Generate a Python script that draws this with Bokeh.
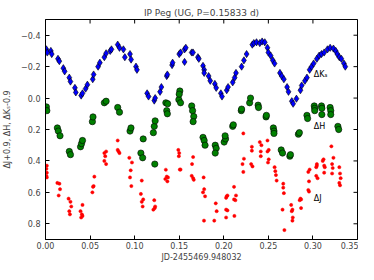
import math
from bokeh.plotting import figure
from bokeh.models import Range1d, FixedTicker, PrintfTickFormatter, CustomJSTickFormatter, Label
from bokeh.embed import file_html
from bokeh.resources import INLINE

# Ks - 0.9 (blue diamonds)
k_t = [.001,.002,.006,.007,.014,.0155,.020,.0215,.0267,.028,.033,.034,.040,.0415,.045,.047,.053,.054,.059,.061,
       .066,.068,.0726,.074,.081,.083,.0874,.089,.0948,.096,.1015,.1026,.114,.1156,.122,.123,.1285,.130,.136,.1367,
       .142,.1426,.150,.1515,.156,.1574,.156,.164,.1655,.171,.172,.1767,.178,.178,.183,.1848,.19,.1915,.1967,.198,
       .2033,.2048,.21,.2122,.2137,.220,.2226,.2256,.232,.2337,.2367,.2404,.243,.246,.249,.250,.2526,.255,.257,.263,
       .265,.2674,.271,.2726,.2763,.2778,.2815,.286,.2874,.291,.2933,.2963,.2985,.3008,.3044,.307,.3096,.3126,.3163,.3193,
       .323,.3256,.3274,.3296,.3319,.3348,.3363]
k_v = [-0.31,-0.29,-0.30,-0.28,-0.25,-0.235,-0.19,-0.17,-0.13,-0.105,-0.065,-0.036,-0.016,-0.03,-0.06,-0.085,-0.12,-0.15,-0.20,-0.225,
       -0.26,-0.285,-0.30,-0.31,-0.34,-0.32,-0.31,-0.26,-0.28,-0.245,-0.20,-0.18,-0.03,-0.01,0.016,0.0,-0.04,-0.07,-0.14,-0.15,
       -0.21,-0.225,-0.28,-0.29,-0.31,-0.32,-0.23,-0.29,-0.29,-0.26,-0.25,-0.205,-0.18,-0.16,-0.14,-0.11,-0.09,-0.065,-0.03,-0.01,
       -0.05,-0.07,-0.10,-0.13,-0.16,-0.20,-0.24,-0.28,-0.34,-0.35,-0.355,-0.35,-0.36,-0.355,-0.32,-0.29,-0.27,-0.24,-0.22,-0.16,
       -0.14,-0.12,-0.07,-0.04,0.02,0.036,0.004,-0.05,-0.08,-0.11,-0.13,-0.18,-0.20,-0.22,-0.25,-0.27,-0.28,-0.29,-0.31,-0.32,
       -0.315,-0.30,-0.28,-0.26,-0.25,-0.22,-0.20]

# H (green circles)
h_t = [.001,.0015,.0133,.0144,.0163,.0267,.028,.0393,.0404,.0415,.0526,.0533,.066,.068,.081,.083,.0948,.0959,.107,.109,
       .1096,.121,.122,.123,.1226,.135,.137,.136,.1367,.1496,.1507,.150,.1515,.164,.165,.1663,.1656,.1767,.178,.179,
       .1904,.1915,.1904,.2004,.202,.2015,.21,.2107,.2196,.22,.229,.23,.2385,.239,.2474,.2478,.2556,.2563,.2563,.2644,
       .2659,.2741,.2748,.2837,.2848,.2933,.294,.3015,.302,.302,.3096,.310,.310,.3193,.32,.32,.328,.3289]
h_v = [0.056,0.08,0.19,0.21,0.24,0.34,0.36,0.31,0.29,0.27,0.15,0.12,0.03,0.02,0.06,0.09,0.21,0.19,0.35,0.38,
       0.26,0.22,0.18,0.145,0.42,0.03,0.036,0.08,0.10,0.01,-0.045,-0.025,0.03,0.05,0.08,0.117,0.15,0.25,0.27,0.30,
       0.30,0.32,0.35,0.28,0.26,0.24,0.18,0.17,0.08,0.07,0.03,0.0,0.045,0.06,0.12,0.11,0.19,0.21,0.225,0.33,
       0.35,0.37,0.36,0.23,0.22,0.11,0.13,0.05,0.065,0.08,0.05,0.065,0.105,0.06,0.08,0.105,0.18,0.20]

# J + 0.9 (red dots)
j_t = [.0015,.001,.0015,.001,.0015,.0133,.0156,.0163,.0148,.0259,.028,.0289,.0267,.0274,.0393,.0415,.0408,.040,.0415,
       .0526,.054,.0548,.0533,.066,.067,.066,.068,.068,.081,.081,.083,.082,.094,.097,.0956,.0948,.0963,
       .108,.107,.1096,.108,.109,.122,.123,.1226,.121,.135,.136,.1344,.1367,.1374,.149,.150,.1496,.1507,.1515,
       .1656,.1644,.164,.1656,.1663,.1774,.178,.1767,.179,.1778,.1893,.191,.192,
       .2033,.2026,.2041,.2026,.2041,.2026,.2115,.2137,.2115,.213,.2119,.2219,.2226,.221,.2219,
       .2315,.2315,.2307,.2322,.2404,.2422,.2415,.2415,.249,.249,.2504,.2504,.2496,.257,.2578,.2585,.2593,
       .2667,.2667,.2674,.2659,.268,.2756,.2763,.277,.2774,.277,.286,.2867,.2852,.2867,
       .2948,.2956,.2963,.2948,.2956,.3037,.3044,.3037,.3052,.3044,.3126,.311,.3133,.3119,.3126,
       .3207,.323,.3215,.3215,.3222,.3296,.3304,.3311,.3296,.3304]
j_v = [0.43,0.45,0.475,0.495,0.505,0.54,0.545,0.58,0.62,0.64,0.66,0.69,0.72,0.74,0.72,0.68,0.74,0.76,0.75,
       0.60,0.56,0.50,0.565,0.35,0.37,0.40,0.42,0.34,0.27,0.33,0.35,0.34,0.38,0.41,0.46,0.505,0.56,
       0.525,0.61,0.645,0.66,0.69,0.65,0.69,0.70,0.71,0.456,0.50,0.515,0.53,0.505,0.33,0.35,0.37,0.455,0.455,
       0.375,0.42,0.495,0.51,0.52,0.505,0.58,0.60,0.625,0.78,0.78,0.67,0.72,
       0.625,0.635,0.62,0.71,0.715,0.76,0.565,0.62,0.645,0.65,0.75,0.225,0.386,0.42,0.47,
       0.31,0.335,0.42,0.435,0.28,0.30,0.34,0.37,0.27,0.34,0.33,0.39,0.41,0.44,0.465,0.49,0.525,
       0.545,0.57,0.605,0.71,0.84,0.68,0.72,0.71,0.76,0.78,0.64,0.645,0.65,0.70,
       0.47,0.53,0.455,0.585,0.595,0.44,0.42,0.495,0.51,0.43,0.43,0.40,0.44,0.39,0.475,
       0.307,0.38,0.42,0.48,0.445,0.44,0.48,0.51,0.54,0.555]

x_ticks = [0.0, 0.05, 0.10, 0.15, 0.20, 0.25, 0.30, 0.35]
y_ticks = [-0.4, -0.2, 0.0, 0.2, 0.4, 0.6, 0.8]
x_min, x_max = 0.0, 0.35
y_top, y_bottom = -0.5, 0.9
band_labels = ["\u0394K\u209b", "\u0394H", "\u0394J"]
band_label_x = [0.301, 0.301, 0.301]
band_label_y = [-0.15, 0.18, 0.64]

FONT = "DejaVu Sans"

p = figure(width=358, height=264, output_backend="svg", toolbar_location=None,
           x_range=Range1d(x_min, x_max), y_range=Range1d(y_bottom, y_top),
           min_border_left=42, min_border_right=1, min_border_top=19, min_border_bottom=20)
p.title.text = "IP Peg (UG, P=0.15833 d)"
p.title.align = "center"
p.title.text_font = FONT
p.title.text_font_size = "9px"
p.title.text_font_style = "normal"
p.title.standoff = 3
p.grid.visible = False
p.outline_line_color = "black"
p.outline_line_width = 1
p.background_fill_color = "white"
p.border_fill_color = "white"

yfmt = CustomJSTickFormatter(code="return (tick < -1e-9 ? '\\u2212' : '') + Math.abs(tick).toFixed(1);")

for ax in (p.xaxis[0], p.yaxis[0]):
    ax.major_tick_in = 4
    ax.major_tick_out = 0
    ax.minor_tick_in = 0
    ax.minor_tick_out = 0
    ax.axis_line_color = "black"
    ax.major_tick_line_color = "black"
    ax.major_label_text_font = FONT
    ax.major_label_text_font_size = "8px"
    ax.axis_label_text_font = FONT
    ax.axis_label_text_font_size = "8px"
    ax.axis_label_text_font_style = "normal"

p.xaxis.ticker = FixedTicker(ticks=x_ticks)
p.xaxis.formatter = PrintfTickFormatter(format="%.2f")
p.xaxis.axis_label = "JD-2455469.948032"
p.xaxis.major_label_standoff = 2
p.xaxis.axis_label_standoff = 1
p.yaxis.ticker = FixedTicker(ticks=y_ticks)
p.yaxis.formatter = yfmt
p.yaxis.axis_label = "\u0394J+0.9, \u0394H, \u0394K\u209b-0.9"
p.yaxis.major_label_standoff = 5
p.yaxis.axis_label_standoff = 6

# inward ticks on the top and right frame edges (half of each dash is clipped by the frame)
p.scatter(x_ticks, [y_top] * len(x_ticks), marker="dash", size=8, angle=math.pi / 2,
          line_color="black", line_width=1)
p.scatter([x_max] * len(y_ticks), y_ticks, marker="dash", size=8,
          line_color="black", line_width=1)

p.scatter(j_t, j_v, marker="circle", size=3.2, fill_color="#ff0000", line_color="#ff0000", line_width=0.5)
p.scatter(h_t, h_v, marker="circle", size=6.3, fill_color="#008000", line_color="black", line_width=0.6)
p.scatter(k_t, k_v, marker="diamond", size=7.2, fill_color="#0000ff", line_color="black", line_width=0.6)

for txt, lx, ly in zip(band_labels, band_label_x, band_label_y):
    p.add_layout(Label(x=lx, y=ly, text=txt, text_font=FONT, text_font_size="8px",
                       text_baseline="middle", text_align="left", text_color="black"))

open("out.html", "w").write(file_html(p, INLINE))
